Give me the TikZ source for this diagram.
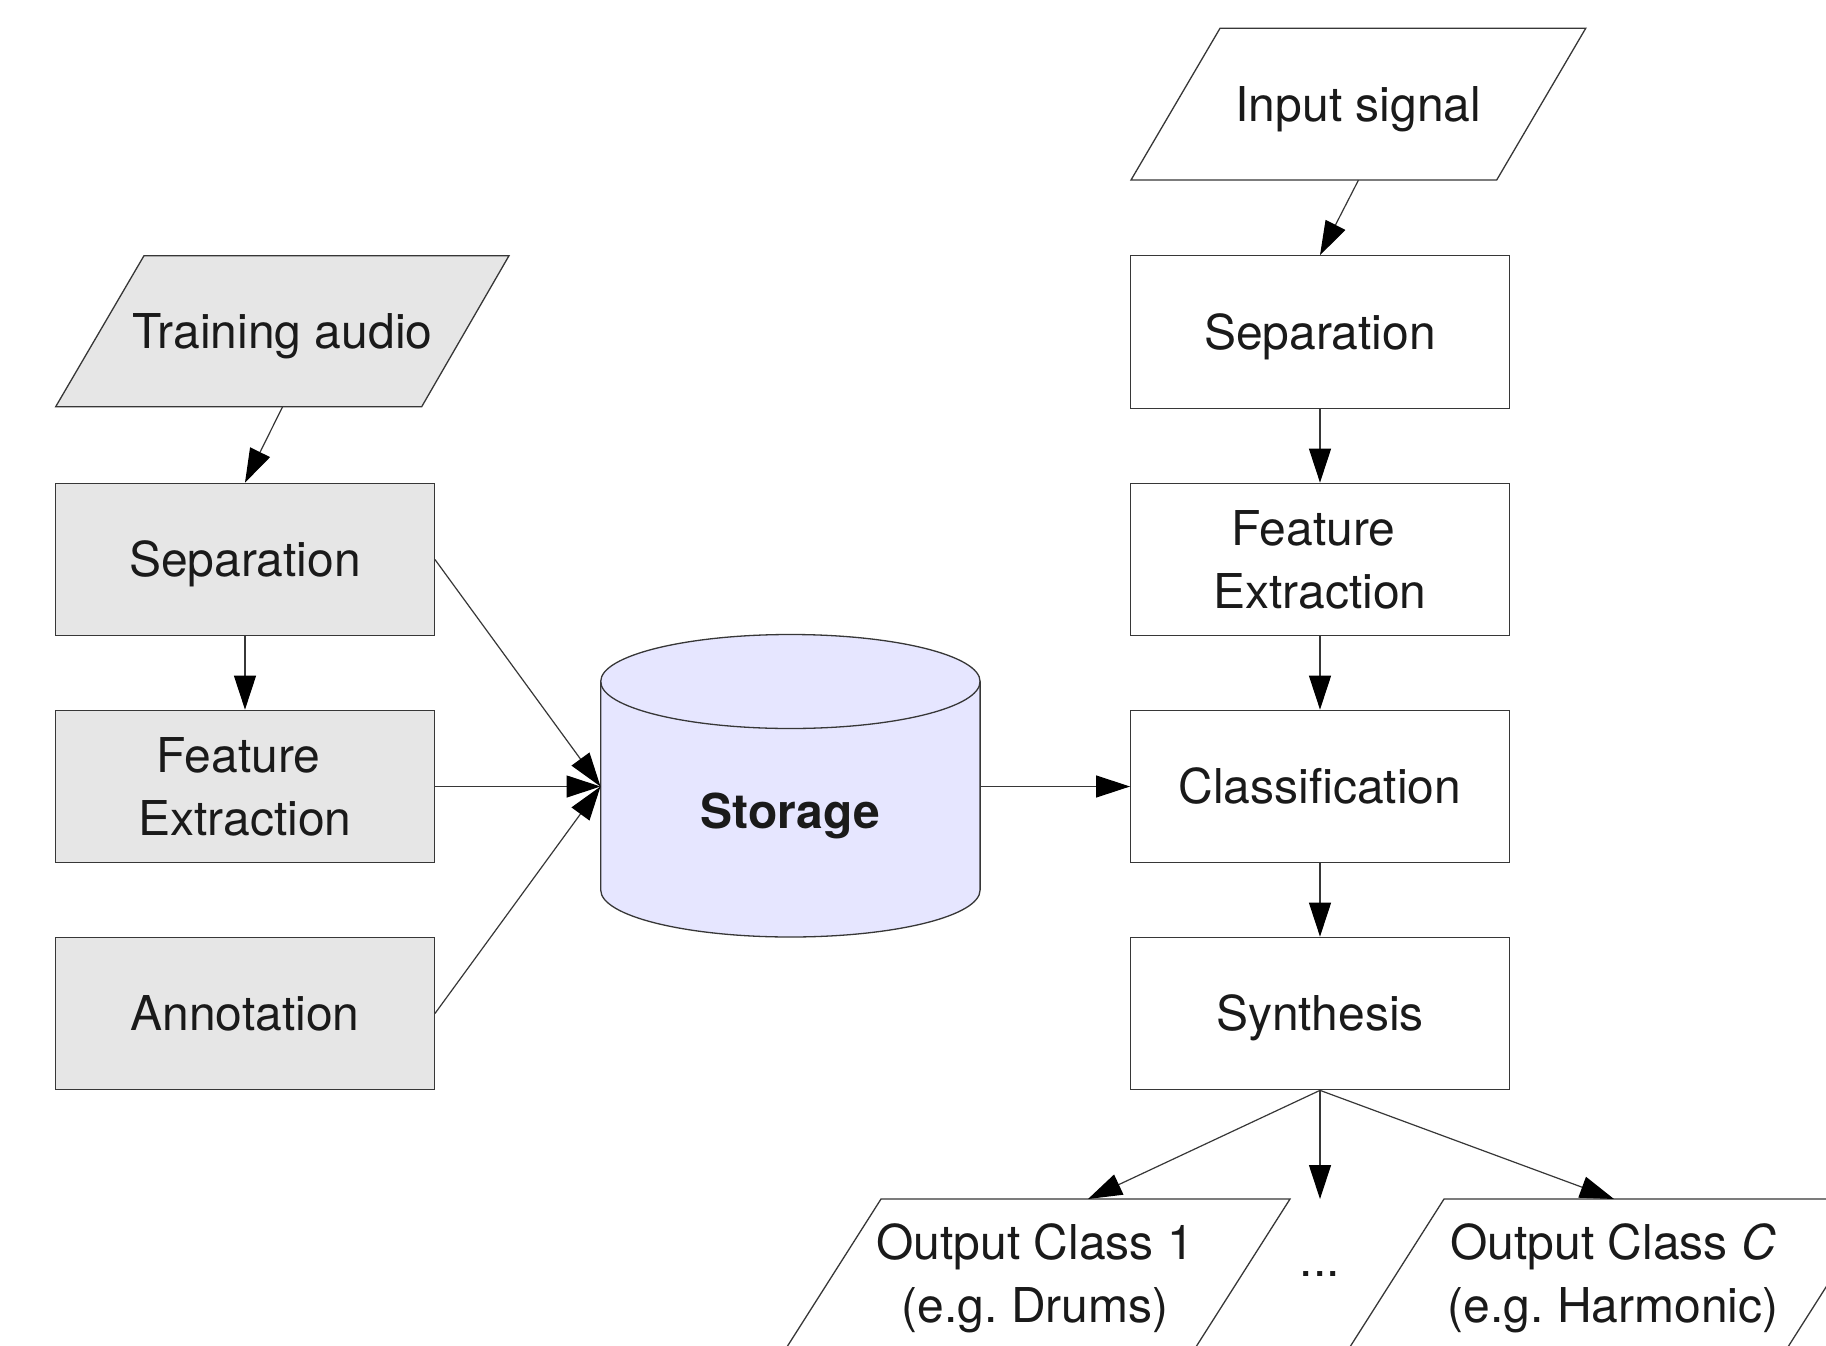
\documentclass[tikz,border=0pt]{standalone}
\usepackage{fontspec}
\setmainfont{TeX Gyre Heros}
\usetikzlibrary{arrows.meta}
\definecolor{boxgray}{RGB}{230,230,230}
\definecolor{lav}{RGB}{230,230,255}
\definecolor{edge}{RGB}{55,55,55}
\definecolor{txt}{RGB}{26,26,26}
\frenchspacing
\begin{document}
\begin{tikzpicture}[x=1pt,y=-1pt,
  every node/.style={font=\fontsize{48}{63}\selectfont, text=txt, align=center, inner sep=0pt},
  oneline/.style={text height=44pt, text depth=9.6pt},
  stepbox/.style={draw=edge, line width=1.3pt, minimum width=378.6pt, minimum height=152.4pt},
  trainbox/.style={stepbox, fill=boxgray},
  runbox/.style={stepbox, fill=white},
  paraline/.style={draw=edge, line width=1.3pt},
  paratext/.style={oneline, minimum height=151pt},
  conn/.style={draw=edge, line width=1.2pt, -{Triangle[length=34pt,width=22pt,color=black,fill=black]}},
  ]
\clip (0,0) rectangle (1826,1346);
\fill[white] (0,0) rectangle (1826,1346);

% ---------- training side ----------
\filldraw[paraline, fill=boxgray] (144,255.7) -- (509,255.7) -- (421.7,406.7) -- (55.7,406.7) -- cycle;
\node[paratext] (train) at (282.6,331) {Training audio};
\node[trainbox, oneline] (lsep) at (245,559.5) {Separation};
\node[trainbox] (lfeat) at (245,786.5) {Feature\kern13pt\\Extraction};
\node[trainbox, oneline] (lannot) at (245,1013.5) {Annotation};

% ---------- storage ----------
\filldraw[fill=lav, draw=edge, line width=1.3pt]
  (600.7,681.5) -- (600.7,890) arc[start angle=180, end angle=360, x radius=189.7pt, y radius=47pt]
  -- (980.1,681.5) arc[start angle=0, end angle=180, x radius=189.7pt, y radius=47pt] -- cycle;
\draw[draw=edge, line width=1.3pt] (600.7,681.5) arc[start angle=180, end angle=360, x radius=189.7pt, y radius=47pt];
\node[minimum width=379.4pt, minimum height=255pt] (storage) at (790.4,786.5) {};
\node[oneline, font=\fontsize{48}{63}\selectfont\bfseries] (storagelbl) at (790.4,811) {Storage};

% ---------- run-time side ----------
\filldraw[paraline, fill=white] (1220,28.3) -- (1585.7,28.3) -- (1496.7,180) -- (1131,180) -- cycle;
\node[paratext, minimum height=151.7pt] (input) at (1358.4,104.15) {Input signal};
\node[runbox, oneline] (rsep) at (1320,332) {Separation};
\node[runbox] (rfeat) at (1320,559.5) {Feature\kern13pt\\Extraction};
\node[runbox, oneline] (rclass) at (1320,786.5) {Classification};
\node[runbox, oneline] (rsynth) at (1320,1013.5) {Synthesis};

% ---------- outputs ----------
\filldraw[paraline, fill=white] (881,1199) -- (1290,1199) -- (1194,1350) -- (785,1350) -- cycle;
\node (out1) at (1035,1278) {Output Class 1\\(e.g. Drums)};
\filldraw[paraline, fill=white] (1444,1199) -- (1882,1199) -- (1786,1350) -- (1348,1350) -- cycle;
\node (outC) at (1613,1278) {Output Class \textit{C}\\(e.g. Harmonic)};
\node (dots) at (1320,1274) {...};
\coordinate (out1T) at (1088,1199);
\coordinate (dotsT) at (1320,1199);
\coordinate (outCT) at (1614,1199);

% ---------- connectors ----------
\draw[conn] (train.south) -- (lsep.north);
\draw[conn] (lsep.south) -- (lfeat.north);
\draw[conn] (lsep.east) -- (storage.west);
\draw[conn] (lfeat.east) -- (storage.west);
\draw[conn] (lannot.east) -- (storage.west);
\draw[conn] (storage.east) -- (rclass.west);
\draw[conn] (input.south) -- (rsep.north);
\draw[conn] (rsep.south) -- (rfeat.north);
\draw[conn] (rfeat.south) -- (rclass.north);
\draw[conn] (rclass.south) -- (rsynth.north);
\draw[conn] (rsynth.south) -- (out1T);
\draw[conn] (rsynth.south) -- (dotsT);
\draw[conn] (rsynth.south) -- (outCT);
\end{tikzpicture}
\end{document}
